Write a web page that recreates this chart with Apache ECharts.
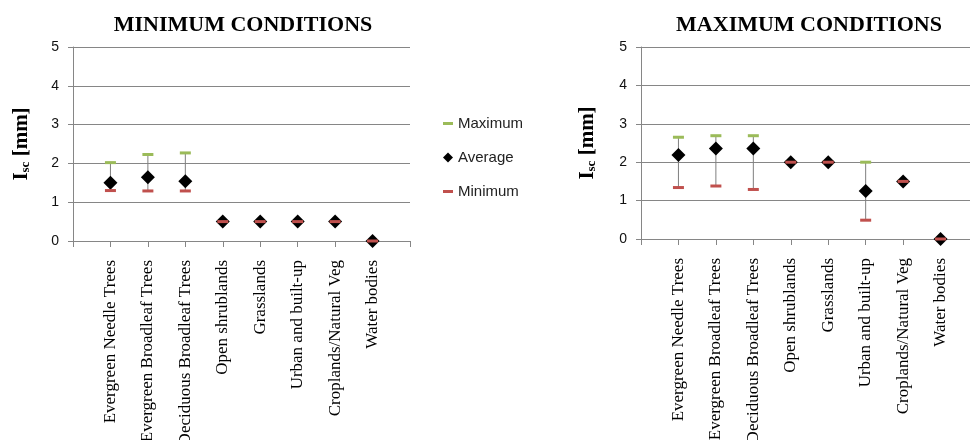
<!DOCTYPE html>
<html><head><meta charset="utf-8">
<script src="https://cdn.jsdelivr.net/npm/echarts@6/dist/echarts.min.js"></script>
<style>html,body{margin:0;padding:0;background:#fff}#c{width:970px;height:440px}</style>
</head><body><div id="c"></div>
<script>
const categories = ['Evergreen Needle Trees','Evergreen Broadleaf Trees','Deciduous Broadleaf Trees','Open shrublands','Grasslands','Urban and built-up','Croplands/Natural Veg','Water bodies'];
const yTicks = [0, 1, 2, 3, 4, 5];
const titles = ['MINIMUM CONDITIONS', 'MAXIMUM CONDITIONS'];
const minCondMax = [2.02, 2.23, 2.27, 0.5, 0.5, 0.5, 0.5, 0];
const minCondAvg = [1.50, 1.64, 1.54, 0.5, 0.5, 0.5, 0.5, 0];
const minCondMin = [1.30, 1.29, 1.29, 0.5, 0.5, 0.5, 0.5, 0];
const maxCondMax = [2.65, 2.69, 2.69, 2.0, 2.0, 2.0, 1.5, 0];
const maxCondAvg = [2.19, 2.36, 2.36, 2.0, 2.0, 1.25, 1.5, 0];
const maxCondMin = [1.34, 1.38, 1.29, 2.0, 2.0, 0.49, 1.5, 0];

const axisCats = [''].concat(categories, ['']);
const GREEN = '#9bbb59', RED = '#c0504d', GRAY = '#868686';

function pts(arr){ return arr.map((v,i)=>[i+1, v]); }
function ranges(lo, hi){ return lo.map((v,i)=>[i+1, v, hi[i]]); }

function xAxis(gi){
  return {
    type:'category', gridIndex:gi, data:axisCats, boundaryGap:false,
    axisLine:{show:true, lineStyle:{color:GRAY, width:1}},
    axisTick:{show:true, interval:0, length:6, lineStyle:{color:GRAY}},
    axisLabel:{interval:0, rotate:90, margin:19, color:'#000', fontFamily:'Liberation Serif', fontSize:17},
    splitLine:{show:false}
  };
}
function yAxis(gi, gap){
  return {
    type:'value', gridIndex:gi, min:yTicks[0], max:yTicks[yTicks.length-1], interval:1,
    axisLine:{show:true, lineStyle:{color:GRAY, width:1}},
    axisTick:{show:true, length:5, lineStyle:{color:GRAY}},
    axisLabel:{margin:14, color:'#111', fontFamily:'Liberation Sans', fontSize:14},
    splitLine:{show:true, lineStyle:{color:GRAY, width:1}},
    name:'{i|I}{s|sc}{i| [mm]}', nameLocation:'middle', nameRotate:90, nameGap:gap,
    nameTextStyle:{
      rich:{
        i:{fontFamily:'Liberation Serif', fontWeight:'bold', fontSize:21, color:'#000', lineHeight:24, verticalAlign:'bottom'},
        s:{fontFamily:'Liberation Serif', fontWeight:'bold', fontSize:13, color:'#000', lineHeight:8, verticalAlign:'bottom'}
      }
    }
  };
}
function rangeSeries(gi, lo, hi){
  return {
    type:'custom', xAxisIndex:gi, yAxisIndex:gi, data:ranges(lo, hi), silent:true, z:1,
    encode:{x:0, y:[1,2]},
    renderItem:function(params, api){
      const a = api.coord([api.value(0), api.value(1)]);
      const b = api.coord([api.value(0), api.value(2)]);
      return {type:'line', shape:{x1:a[0], y1:a[1], x2:b[0], y2:b[1]}, style:{stroke:'#7f7f7f', lineWidth:1}};
    }
  };
}
function scat(gi, name, arr, symbol, size, color){
  return {type:'scatter', name:name, xAxisIndex:gi, yAxisIndex:gi, data:pts(arr), symbol:symbol, symbolSize:size, itemStyle:{color:color, opacity:1}, z:2};
}

const chart = echarts.init(document.getElementById('c'), null, {renderer:'canvas'});
chart.setOption({
  animation:false,
  backgroundColor:'#fff',
  title:[
    {text:titles[0], left:238, top:9, textAlign:'center', textStyle:{fontFamily:'Liberation Serif', fontWeight:'bold', fontSize:22, color:'#000'}},
    {text:titles[1], left:804, top:9, textAlign:'center', textStyle:{fontFamily:'Liberation Serif', fontWeight:'bold', fontSize:22, color:'#000'}}
  ],
  legend:{
    orient:'vertical', left:438, top:111, itemGap:19, itemWidth:10, itemHeight:14,
    textStyle:{fontFamily:'Liberation Sans', fontSize:15, color:'#222'},
    data:[
      {name:'Maximum', icon:'path://M0,0 M10,14 M0,5.5 L10,5.5 L10,8.5 L0,8.5 Z'},
      {name:'Average', icon:'path://M0,0 M10,14 M5,1.5 L10.5,7 L5,12.5 L-0.5,7 Z'},
      {name:'Minimum', icon:'path://M0,0 M10,14 M0,5.5 L10,5.5 L10,8.5 L0,8.5 Z'}
    ]
  },
  grid:[
    {left:73, top:47, width:337, height:194, containLabel:false, outerBoundsMode:'none'},
    {left:641, top:47, width:337, height:192, containLabel:false, outerBoundsMode:'none'}
  ],
  xAxis:[xAxis(0), xAxis(1)],
  yAxis:[yAxis(0, 41), yAxis(1, 43)],
  series:[
    rangeSeries(0, minCondMin, minCondMax),
    scat(0, 'Maximum', minCondMax, 'rect', [11,3], GREEN),
    scat(0, 'Average', minCondAvg, 'diamond', 14, '#000'),
    scat(0, 'Minimum', minCondMin, 'rect', [11,3], RED),
    rangeSeries(1, maxCondMin, maxCondMax),
    scat(1, 'Maximum', maxCondMax, 'rect', [11,3], GREEN),
    scat(1, 'Average', maxCondAvg, 'diamond', 14, '#000'),
    scat(1, 'Minimum', maxCondMin, 'rect', [11,3], RED)
  ]
});
</script>
</body></html>
